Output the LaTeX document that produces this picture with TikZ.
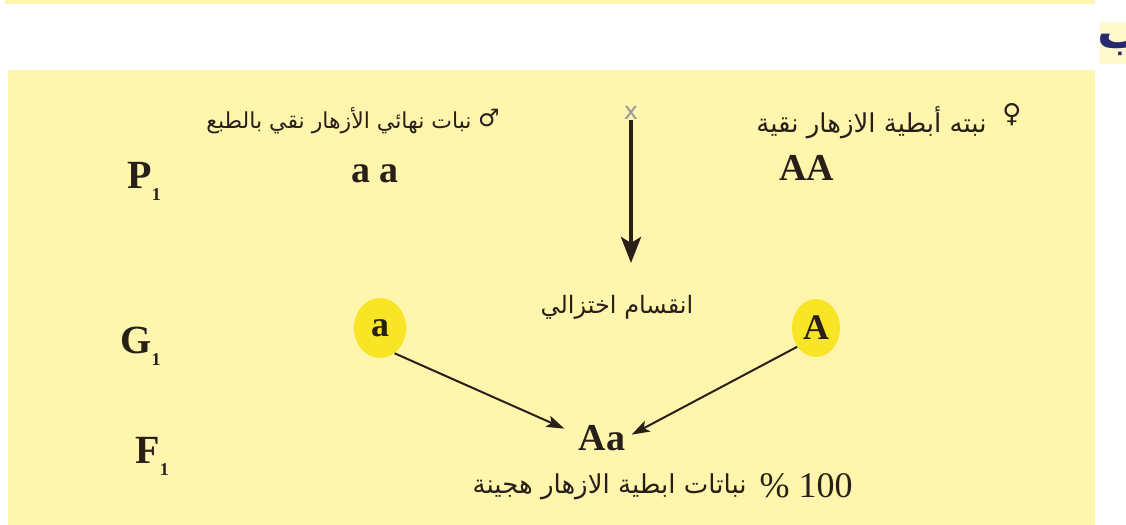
\documentclass[tikz,border=0pt]{standalone}
\usepackage{fontspec}
\setmainfont{Liberation Serif}
\newfontfamily\arabicfont[Script=Arabic]{DejaVu Sans}
\newfontfamily\signfont{DejaVu Sans}
\TeXXeTstate=1
\usetikzlibrary{arrows.meta,shapes.geometric}
\definecolor{panel}{RGB}{255,245,172}
\definecolor{gamete}{RGB}{247,229,38}
\definecolor{tabink}{RGB}{38,40,112}
\definecolor{ink}{RGB}{40,32,24}

\begin{document}
\begin{tikzpicture}[x=0.5pt,y=-0.5pt,
  stage/.style={font=\fontsize{20}{20}\selectfont\bfseries, text=ink, inner sep=0pt, anchor=base west},
  geno/.style={font=\fontsize{19}{19}\selectfont\bfseries, text=ink, inner sep=0pt, anchor=base},
  gam/.style={ellipse, fill=gamete, minimum width=26pt, minimum height=30pt, inner sep=0pt,
    font=\fontsize{18}{18}\selectfont\bfseries, text=ink},
  arab/.style={font=\arabicfont\fontsize{13}{15}\selectfont, text=ink, inner sep=0pt},
  sign/.style={font=\signfont\fontsize{12}{12}\selectfont, text=ink, inner sep=0pt},
  down/.style={draw=ink, line width=2pt, -{Stealth[length=13pt,width=10pt,inset=3pt]}},
  link/.style={draw=ink, line width=1pt, -{Stealth[length=9pt,width=6pt,inset=2pt]}}]
  \useasboundingbox (0,0) rectangle (1126,525);
  \fill[panel] (5,0) rectangle (1095,4);
  \fill[panel] (8,70) rectangle (1095,525);
  % section letter, cut at the page edge
  \fill[panel!60!white] (1100,22) rectangle (1126,64);
  \node[font=\arabicfont\fontsize{24}{24}\selectfont\bfseries, text=tabink, inner sep=0pt] (sect) at (1122,44) {\beginR ب\endR};

  % generations
  \foreach \g/\x/\y in {P/127/188,G/120/353,F/135/463}{%
    \node[stage] (\g) at (\x,\y) {\g\raisebox{-0.3em}{\fontsize{9}{9}\selectfont 1}};
  }

  % parents
  \node[arab, font=\arabicfont\fontsize{11}{13}\selectfont, anchor=east] (maletxt) at (472,121) {\beginR نبات نهائي الأزهار نقي بالطبع\endR};
  \node[sign] (male) at (489,118) {♂};
  \node[font=\signfont\fontsize{12}{12}\selectfont, text=black!40, inner sep=0pt] (cross) at (631,113) {x};
  \node[arab, anchor=east] (femtxt) at (987,123) {\beginR نبته أبطية الازهار نقية\endR};
  \node[sign, font=\signfont\fontsize{13}{13}\selectfont] (female) at (1012,115) {♀};
  \node[geno] (aa) at (375,182) {a a};
  \node[geno] (AA) at (807,180) {AA};

  % meiosis
  \coordinate (split) at (631,263);
  \draw[down] (cross.south) -- (split);
  \node[arab, font=\arabicfont\fontsize{12}{14}\selectfont] (meiosis) at (617,307) {\beginR انقسام اختزالي\endR};

  % gametes and offspring
  \node[gam] (ga) at (380,328) {a};
  \node[gam, minimum width=24pt, minimum height=29pt] (gA) at (816,328) {A};
  \node[geno] (Aa) at (602,450) {Aa};
  \draw[link] (ga.-60) -- ([xshift=-7pt,yshift=4.5pt]Aa.west);
  \draw[link] (gA.-135) -- ([xshift=3pt,yshift=1.5pt]Aa.east);
  \node[font=\fontsize{18}{18}\selectfont, text=ink, inner sep=0pt, anchor=base east] (pct) at (853,497) {\% 100};
  \node[arab, anchor=east] (hybrid) at (747,487) {\beginR نباتات ابطية الازهار هجينة\endR};
\end{tikzpicture}
\end{document}
